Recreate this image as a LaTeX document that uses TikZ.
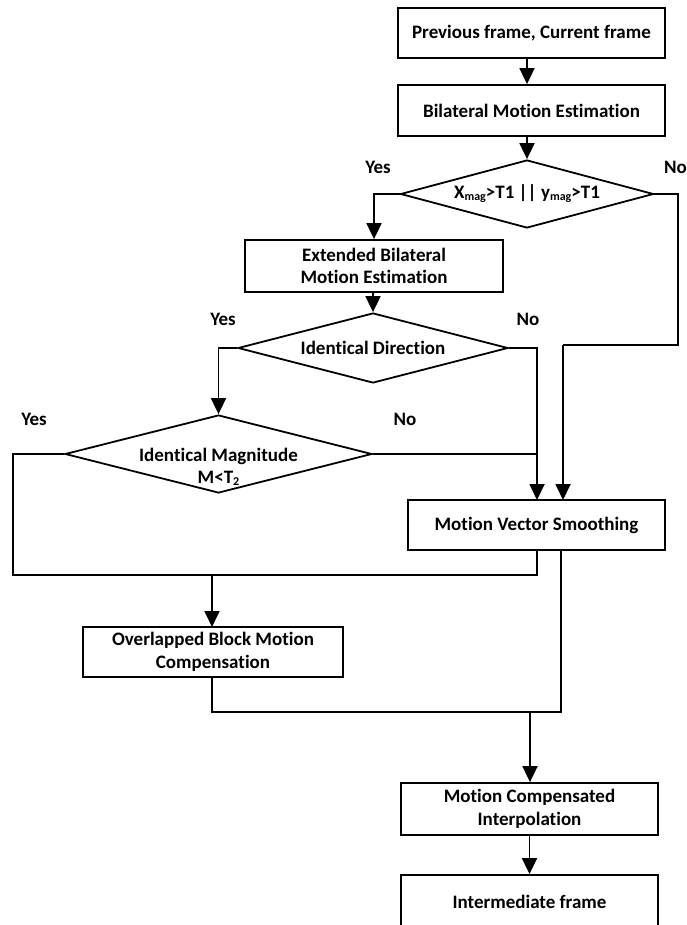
\documentclass[tikz,border=0pt]{standalone}
\usepackage{fontspec}
\setmainfont{Carlito}[Ligatures={NoCommon}]
\usetikzlibrary{arrows.meta,shapes.geometric}
\begin{document}
\begin{tikzpicture}[x=1pt,y=-1pt,
  every node/.style={font=\fontsize{19}{22.5}\selectfont\bfseries},
  box/.style={draw,line width=1.8pt,inner sep=0pt,align=center},
  dia/.style={draw,diamond,line width=1.8pt,inner sep=0pt},
  lbl/.style={inner sep=0pt,align=center},
  line/.style={line width=1.8pt},
  arr/.style={line width=1.8pt,-{Triangle[length=16pt,width=15pt]}}]
\useasboundingbox (0,0) rectangle (686,925);
\clip (0,0) rectangle (686,925);
% boxes
\node[box,minimum width=267pt,minimum height=50pt] (b1) at (531.5,33) {Previous frame, Current frame};
\node[box,minimum width=267pt,minimum height=51pt] (b2) at (531.5,110.5) {Bilateral Motion Estimation};
\node[dia,aspect=3.7,minimum width=253pt,minimum height=68pt] (d1) at (527,194) {};
\node[lbl] (t1) at (527,194) {X{\fontsize{12}{12}\selectfont\raisebox{-2pt}{mag}}>T1 || y{\fontsize{12}{12}\selectfont\raisebox{-2pt}{mag}}>T1};
\node[box,minimum width=258pt,minimum height=52pt] (b3) at (374,266) {Extended Bilateral\\Motion Estimation};
\node[dia,aspect=3.8,minimum width=270pt,minimum height=70pt] (d2) at (373,348) {};
\node[lbl] (t2) at (373,348) {Identical Direction};
\node[dia,aspect=3.9,minimum width=307pt,minimum height=78pt] (d3) at (218.5,454) {};
\node[lbl] (t3) at (218.5,467) {Identical Magnitude\\M<T{\fontsize{12}{12}\selectfont\raisebox{-2pt}{2}}};
\node[box,minimum width=257pt,minimum height=50pt] (mvs) at (536.5,525) {Motion Vector Smoothing};
\node[box,minimum width=260pt,minimum height=50pt] (obmc) at (213,652) {Overlapped Block Motion\\Compensation};
\node[box,minimum width=257pt,minimum height=52pt] (mci) at (529.5,809) {Motion Compensated\\Interpolation};
\node[box,minimum width=257pt,minimum height=54pt] (out) at (529.5,902) {Intermediate frame};
% labels
\node[lbl] (y1) at (378,167) {Yes};
\node[lbl,anchor=west] (n1) at (664,167) {No};
\node[lbl] (y2) at (223,319) {Yes};
\node[lbl] (n2) at (528,319) {No};
\node[lbl] (y3) at (34,419) {Yes};
\node[lbl] (n3) at (405,419) {No};
% coordinates
\coordinate (r1) at (678,194);
\coordinate (r2) at (678,345);
\coordinate (r3) at (563,345);
\coordinate (m2) at (563,500);
\coordinate (c2) at (537,348);
\coordinate (m1) at (537,500);
\coordinate (c3) at (537,454);
\coordinate (l1) at (13,454);
\coordinate (l2) at (13,575);
\coordinate (j1) at (212,575);
\coordinate (j2) at (537,575);
\coordinate (mb1) at (537,550);
\coordinate (mb2) at (561,550);
\coordinate (k1) at (561,712);
\coordinate (k2) at (530,712);
\coordinate (k3) at (212,712);
\coordinate (ob) at (212,677);
\coordinate (ot) at (212,627);
% connectors
\draw[arr] (b1.south -| d1.north) -- (b2.north -| d1.north);
\draw[arr] (b2.south -| d1.north) -- (d1.north);
\draw[arr] (d1.west) -| (b3.north);
\draw[line] (d1.east) -- (r1) -- (r2) -- (r3);
\draw[arr] (r3) -- (m2);
\draw[arr] (b3.south -| d2.north) -- (d2.north);
\draw[arr] (d2.west) -| (d3.north);
\draw[arr] (d2.east) -- (c2) -- (m1);
\draw[line] (d3.east) -- (c3);
\draw[line] (d3.west) -- (l1) -- (l2) -- (j2) -- (mb1);
\draw[arr] (j1) -- (ot);
\draw[line] (mb2) -- (k1) -- (k3) -- (ob);
\draw[arr] (k2) -- (mci.north -| k2);
\draw[arr] (mci.south) -- (out.north);
\end{tikzpicture}
\end{document}
